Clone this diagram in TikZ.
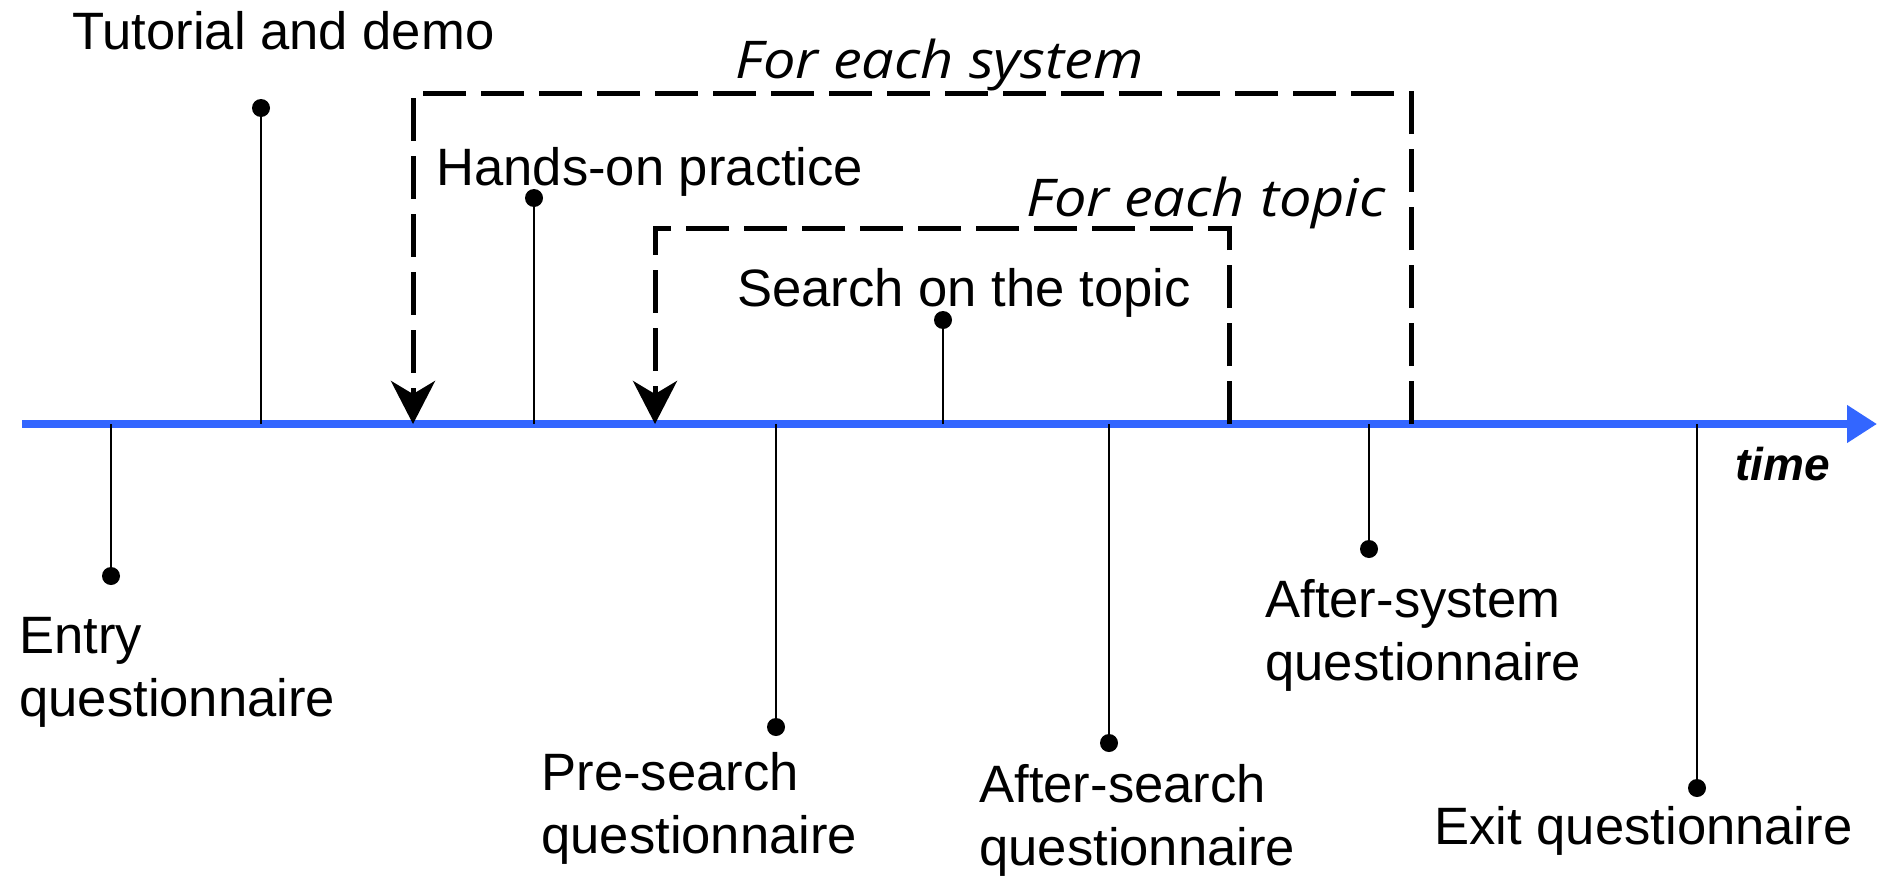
\documentclass[tikz,border=0pt]{standalone}
\usepackage{fontspec}
\setmainfont{Liberation Sans}
\newfontfamily\handfont{Open Sans}
\usetikzlibrary{arrows.meta}
\definecolor{axisblue}{RGB}{51,102,255}
\newcommand{\widenote}[1]{\scalebox{1.11}[1]{#1}}
\begin{document}
\begin{tikzpicture}[x=0.5pt,y=-0.5pt,
  lbl/.style={anchor=base west, inner sep=0pt, font=\fontsize{26.3}{31.5}\selectfont, align=left},
  loopnote/.style={anchor=base west, inner sep=0pt, font=\handfont\itshape\fontsize{26}{30}\selectfont},
  timelbl/.style={anchor=base west, inner sep=0pt, font=\bfseries\itshape\fontsize{23}{27}\selectfont},
  stem/.style={line width=1pt},
  dot/.style={circle, fill, inner sep=0pt, minimum size=9pt},
  loopline/.style={line width=2.5pt, dash pattern=on 21.5pt off 7.5pt, -{Stealth[length=21.5pt,width=22pt,inset=6.5pt]}},
  axisline/.style={line width=4pt, axisblue, -{Triangle[length=15pt,width=18pt]}}]
\path[use as bounding box] (0,0) rectangle (1878,878);

% time axis
\coordinate (ax0) at (22,424);
\coordinate (ax1) at (1877,424);
\draw[axisline] (ax0) -- (ax1);
\node[timelbl] (time) at (1735,480) {time};

% loops
\coordinate (sysR) at (1411,424);
\coordinate (sysTR) at (1411,93);
\coordinate (sysTL) at (413,93);
\coordinate (sysL) at (413,424);
\draw[loopline] (sysR) -- (sysTR) -- (sysTL) -- (sysL);
\node[loopnote] (sysnote) at (735,78) {\widenote{For each system}};

\coordinate (topR) at (1229,424);
\coordinate (topTR) at (1229,228);
\coordinate (topTL) at (655,228);
\coordinate (topL) at (655,424);
\draw[loopline] (topR) -- (topTR) -- (topTL) -- (topL);
\node[loopnote] (topnote) at (1026,216) {\widenote{For each topic}};

% events
\coordinate (entA) at (111,424);   \node[dot] (entD) at (111,576) {};
\coordinate (tutA) at (261,424);   \node[dot] (tutD) at (261,108) {};
\coordinate (hanA) at (534,424);   \node[dot] (hanD) at (534,198) {};
\coordinate (seaA) at (943,424);   \node[dot] (seaD) at (943,320) {};
\coordinate (preA) at (776,424);   \node[dot] (preD) at (776,727) {};
\coordinate (aseA) at (1109,424);  \node[dot] (aseD) at (1109,743) {};
\coordinate (asyA) at (1369,424);  \node[dot] (asyD) at (1369,549) {};
\coordinate (exiA) at (1697,424);  \node[dot] (exiD) at (1697,788) {};
\foreach \n in {ent,tut,han,sea,pre,ase,asy,exi}
  \draw[stem] (\n A) -- (\n D.center);

% labels (two-line labels anchored at the baseline of their last line)
\node[lbl] (entL) at (19,716) {Entry\\questionnaire};
\node[lbl] (tutL) at (72,49) {Tutorial and demo};
\node[lbl] (hanL) at (436,185) {Hands-on practice};
\node[lbl] (seaL) at (737,306) {Search on the topic};
\node[lbl] (preL) at (541,853) {Pre-search\\questionnaire};
\node[lbl] (aseL) at (979,865) {After-search\\questionnaire};
\node[lbl] (asyL) at (1265,680) {After-system\\questionnaire};
\node[lbl] (exiL) at (1434,844) {Exit questionnaire};
\end{tikzpicture}
\end{document}
